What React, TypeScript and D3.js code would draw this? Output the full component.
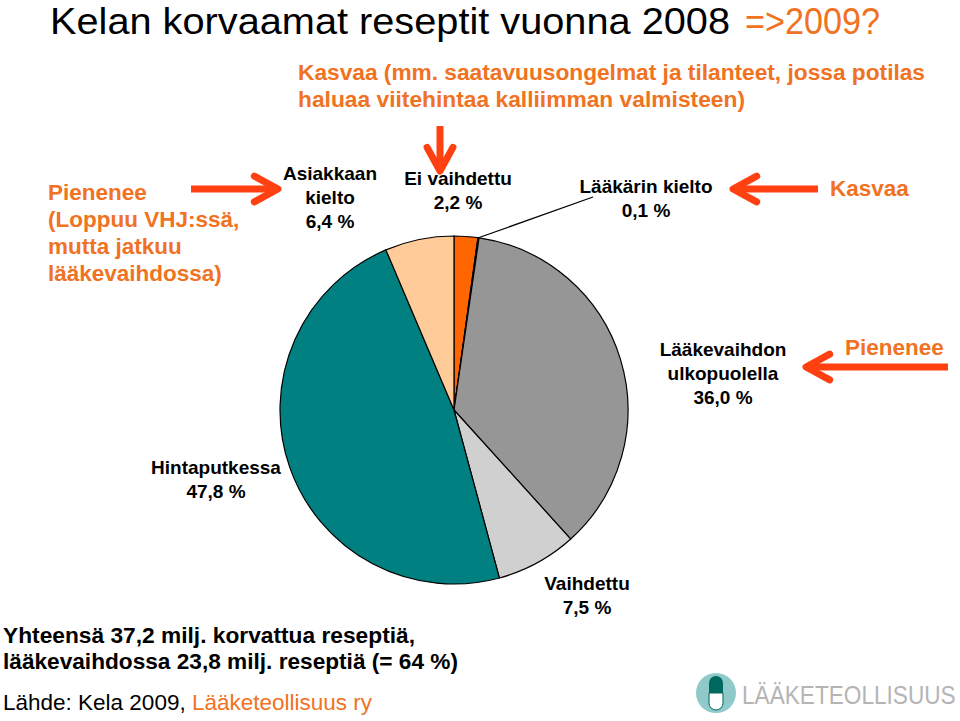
import React from "react";
import * as d3 from "d3";

const categories = [
  "Ei vaihdettu",
  "Lääkärin kielto",
  "Lääkevaihdon ulkopuolella",
  "Vaihdettu",
  "Hintaputkessa",
  "Asiakkaan kielto",
];
const values = [2.2, 0.1, 36.0, 7.5, 47.8, 6.4];
const valueLabels = ["2,2 %", "0,1 %", "36,0 %", "7,5 %", "47,8 %", "6,4 %"];
const labelLines = [
  ["Ei vaihdettu"],
  ["Lääkärin kielto"],
  ["Lääkevaihdon", "ulkopuolella"],
  ["Vaihdettu"],
  ["Hintaputkessa"],
  ["Asiakkaan", "kielto"],
];
const colors = ["#FF6600", "#B0B0B0", "#969696", "#D0D0D0", "#008080", "#FFCC99"];

// label layout (x center, first-line baseline)
const labelPos = [
  [458, 185],
  [646, 193],
  [723, 356],
  [587, 590],
  [216, 474],
  [330, 180],
];

const ORANGE = "#F07222";
const RED = "#FF4010";
const FONT = "Liberation Sans, Arial, Helvetica, sans-serif";

function Arrow({ x1, y1, x2, y2 }: { x1: number; y1: number; x2: number; y2: number }) {
  const ang = Math.atan2(y2 - y1, x2 - x1);
  const h = 27;
  const spread = 0.5;
  const ax = x2 - h * Math.cos(ang - spread);
  const ay = y2 - h * Math.sin(ang - spread);
  const bx = x2 - h * Math.cos(ang + spread);
  const by = y2 - h * Math.sin(ang + spread);
  return (
    <g stroke={RED} strokeWidth={7} fill="none" strokeLinecap="round" strokeLinejoin="round">
      <line x1={x1} y1={y1} x2={x2 - 3 * Math.cos(ang)} y2={y2 - 3 * Math.sin(ang)} strokeLinecap="butt" />
      <polyline points={`${ax},${ay} ${x2},${y2} ${bx},${by}`} />
    </g>
  );
}

export default function App() {
  const W = 960, H = 721;
  const cx = 454, cy = 410, r = 174;
  const pie = d3.pie<number>().sort(null).value((d) => d).startAngle(0).endAngle(2 * Math.PI);
  const arcs = pie(values);
  const arc = d3.arc<d3.PieArcDatum<number>>().innerRadius(0).outerRadius(r);

  const lk = arcs[1];
  const lkMid = (lk.startAngle + lk.endAngle) / 2;
  const lkPt = [cx + r * Math.sin(lkMid), cy - r * Math.cos(lkMid)];

  return (
    <svg width={W} height={H} style={{ position: "absolute", left: 0, top: 0 }} fontFamily={FONT}>
      <rect width={W} height={H} fill="#fff" />
      <text x={50} y={34} fontSize={37} fill="#000" textLength={680} lengthAdjust="spacingAndGlyphs">
        Kelan korvaamat reseptit vuonna 2008
      </text>
      <text x={745} y={34} fontSize={37} fill={ORANGE} textLength={135} lengthAdjust="spacingAndGlyphs">
        =&gt;2009?
      </text>
      <g fontSize={22} fontWeight="bold" fill={ORANGE}>
        <text x={298} y={80} textLength={627} lengthAdjust="spacingAndGlyphs">
          Kasvaa (mm. saatavuusongelmat ja tilanteet, jossa potilas
        </text>
        <text x={298} y={107} textLength={447} lengthAdjust="spacingAndGlyphs">
          haluaa viitehintaa kalliimman valmisteen)
        </text>
      </g>
      <g fontSize={22.5} fontWeight="bold" fill={ORANGE}>
        <text x={48} y={200}>Pienenee</text>
        <text x={48} y={227}>(Loppuu VHJ:ssä,</text>
        <text x={48} y={254}>mutta jatkuu</text>
        <text x={48} y={281}>lääkevaihdossa)</text>
        <text x={830} y={196}>Kasvaa</text>
        <text x={845} y={355}>Pienenee</text>
      </g>
      <Arrow x1={191} y1={189} x2={278} y2={189} />
      <Arrow x1={440} y1={126} x2={440} y2={171} />
      <Arrow x1={818} y1={189} x2={733} y2={189} />
      <Arrow x1={948} y1={367} x2={806} y2={367} />

      <g transform={`translate(${cx},${cy})`}>
        {arcs.map((a, i) => (
          <path key={categories[i]} d={arc(a) || ""} fill={colors[i]} stroke="#000" strokeWidth={1.2} />
        ))}
      </g>
      <line x1={lkPt[0]} y1={lkPt[1]} x2={593} y2={197} stroke="#000" strokeWidth={1.2} />

      <g fontSize={19} fontWeight="bold" fill="#000" textAnchor="middle">
        {labelLines.map((lines, i) => (
          <text key={categories[i]} x={labelPos[i][0]} y={labelPos[i][1]}>
            {lines.map((l, j) => (
              <tspan key={j} x={labelPos[i][0]} dy={j === 0 ? 0 : 24}>
                {l}
              </tspan>
            ))}
            <tspan x={labelPos[i][0]} dy={24}>
              {valueLabels[i]}
            </tspan>
          </text>
        ))}
      </g>

      <g fontSize={22} fontWeight="bold" fill="#000">
        <text x={3} y={643} textLength={412} lengthAdjust="spacingAndGlyphs">
          Yhteensä 37,2 milj. korvattua reseptiä,
        </text>
        <text x={3} y={669} textLength={455} lengthAdjust="spacingAndGlyphs">
          lääkevaihdossa 23,8 milj. reseptiä (= 64 %)
        </text>
      </g>
      <text x={3} y={710} fontSize={22.5} fill="#000">
        <tspan>Lähde: Kela 2009, </tspan>
        <tspan fill={ORANGE}>Lääketeollisuus ry</tspan>
      </text>

      <g>
        <circle cx={716} cy={693} r={20} fill="#8FC9C9" />
        <path d="M709,693 L709,683 A7,7 0 0 1 723,683 L723,693 Z" fill="#00695F" />
        <path d="M709,693 L709,703 A7,7 0 0 0 723,703 L723,693 Z" fill="#fff" stroke="#00695F" strokeWidth={1} />
        <text transform="translate(742,704) scale(0.87,1)" x={0} y={0} fontSize={26} fill="#B5B5B5" fontWeight="300">
          LÄÄKETEOLLISUUS
        </text>
      </g>
    </svg>
  );
}
